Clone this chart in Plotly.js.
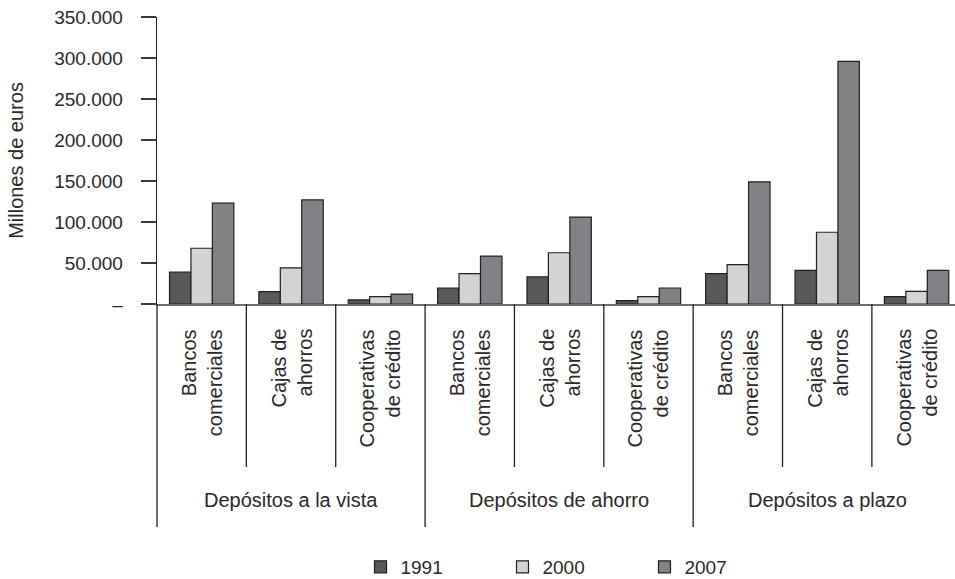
<!DOCTYPE html>
<html>
<head>
<meta charset="utf-8">
<script src="https://cdn.plot.ly/plotly-3.0.1.min.js"></script>
<style>
  html, body { margin: 0; padding: 0; background: #fff; }
  #chart { width: 955px; height: 579px; }
</style>
</head>
<body>
<div id="chart"></div>
<script>
// ---- data ----
const groups = ['Depósitos a la vista', 'Depósitos de ahorro', 'Depósitos a plazo'];
const subcats = ['Bancos<br>comerciales', 'Cajas de<br>ahorros', 'Cooperativas<br>de crédito'];
const years = ['1991', '2000', '2007'];
const v1991 = [39000, 15000, 5000, 19500, 33000, 4000, 37000, 41000, 9000];
const v2000 = [68000, 44000, 9000, 37000, 62500, 9000, 48000, 87500, 15500];
const v2007 = [123000, 127000, 12000, 58500, 106000, 19500, 149000, 296000, 41000];
const yTickVals = [0, 50000, 100000, 150000, 200000, 250000, 300000, 350000];
const yTickText = ['–', '50.000', '100.000', '150.000', '200.000', '250.000', '300.000', '350.000'];
const yTitle = 'Millones de euros';

// ---- build ----
const keys = [];
groups.forEach(g => subcats.forEach(s => keys.push(g + ' | ' + s)));
const colors = ['#58595b', '#d1d3d4', '#808285'];
const series = [v1991, v2000, v2007];
const textColor = '#2b2829';
const font = 'Liberation Sans, Arial, sans-serif';

const traces = series.map((vals, i) => ({
  type: 'bar',
  name: years[i],
  x: keys,
  y: vals,
  marker: { color: colors[i], line: { color: '#231f20', width: 1.2 } },
  hoverinfo: 'x+y'
}));

const plotTop = 17, plotBottom = 304, plotH = plotBottom - plotTop;
const py = px => -(px - plotBottom) / plotH;  // pixel below plot -> paper y

const annotations = [];
keys.forEach((k, i) => {
  annotations.push({
    x: k, xref: 'x', y: py(328), yref: 'paper',
    text: subcats[i % 3], textangle: -90, showarrow: false,
    xanchor: 'center', yanchor: 'top', align: 'right', borderpad: 0,
    font: { family: font, size: 20, color: textColor }
  });
});
groups.forEach((g, gi) => {
  annotations.push({
    x: keys[gi * 3 + 1], xref: 'x', y: py(500), yref: 'paper',
    text: g, showarrow: false, xanchor: 'center', yanchor: 'middle',
    font: { family: font, size: 20, color: textColor }
  });
});

const shapes = [];
for (let b = 0; b < keys.length; b++) {
  const isGroupEnd = (b + 1) % 3 === 0;
  shapes.push({
    type: 'line', xref: 'x', yref: 'paper',
    x0: b + 0.5, x1: b + 0.5, y0: 0, y1: py(isGroupEnd ? 527 : 467),
    line: { color: '#231f20', width: 1.3 }
  });
}
shapes.push({
  type: 'line', xref: 'paper', yref: 'paper',
  x0: 0, x1: 0, y0: 0, y1: py(527),
  line: { color: '#231f20', width: 1.3 }
});

const layout = {
  width: 955, height: 579,
  margin: { l: 157, r: 0, t: plotTop, b: 579 - plotBottom, pad: 0, autoexpand: false },
  paper_bgcolor: '#fff', plot_bgcolor: '#fff',
  font: { family: font, color: textColor, size: 18 },
  barmode: 'group', bargap: 0.28, bargroupgap: 0,
  showlegend: true,
  legend: {
    orientation: 'h', x: 0.255, xanchor: 'left', y: py(567), yanchor: 'middle',
    font: { family: font, size: 19, color: textColor },
    entrywidth: 97, entrywidthmode: 'pixels', traceorder: 'normal'
  },
  xaxis: {
    type: 'category', range: [-0.5, 8.43],
    showticklabels: false, ticks: '', showgrid: false, zeroline: false,
    showline: true, linecolor: '#6d6e71', linewidth: 2, fixedrange: true
  },
  yaxis: {
    range: [0, 350000], tickvals: yTickVals, ticktext: yTickText,
    ticks: 'outside', ticklen: 15, tickwidth: 1.3, tickcolor: '#3a3a3a',
    ticklabelstandoff: 14,
    showgrid: false, zeroline: false, showline: true, linecolor: '#231f20', linewidth: 1.3,
    tickfont: { family: font, size: 19, color: textColor },
    title: { text: yTitle, font: { family: font, size: 20, color: textColor }, standoff: 25 },
    automargin: false, fixedrange: true
  },
  annotations: annotations,
  shapes: shapes
};

Plotly.newPlot('chart', traces, layout, { displayModeBar: false, staticPlot: true });
</script>
</body>
</html>
